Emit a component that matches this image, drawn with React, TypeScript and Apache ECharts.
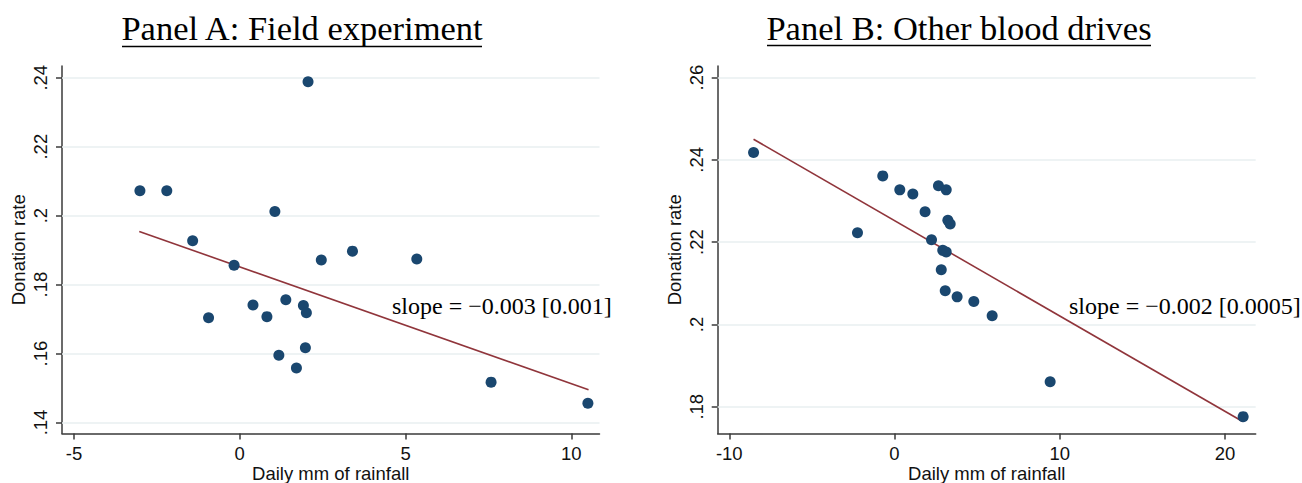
import React, { useEffect, useRef } from "react";
import * as echarts from "echarts";

// ---------- data ----------
const rainA = [-3.01, -2.2, -1.42, -0.17, 1.06, 2.06, -0.94, 0.4, 0.82, 1.39, 1.92, 2.01, 1.18, 1.71, 1.98, 2.46, 3.4, 5.34, 7.58, 10.5];
const rateA = [0.2072, 0.2072, 0.1927, 0.1856, 0.2012, 0.2388, 0.1704, 0.1741, 0.1707, 0.1756, 0.1739, 0.1718, 0.1595, 0.1558, 0.1617, 0.1871, 0.1897, 0.1874, 0.1517, 0.1456];
const fitXA = [-3.03, 10.52];
const fitYA = [0.1954, 0.1495];

const rainB = [-8.53, -2.24, -0.71, 0.32, 1.11, 1.85, 2.24, 2.66, 3.13, 3.23, 3.37, 2.92, 3.13, 2.83, 3.07, 3.79, 4.8, 5.91, 9.42, 21.1];
const rateB = [0.2418, 0.2223, 0.2361, 0.2327, 0.2317, 0.2274, 0.2206, 0.2337, 0.2327, 0.2253, 0.2244, 0.218, 0.2176, 0.2133, 0.2082, 0.2067, 0.2056, 0.2021, 0.1861, 0.1776];
const fitXB = [-8.53, 21.07];
const fitYB = [0.245, 0.1764];

const xTicksA = [-5, 0, 5, 10];
const yTicksA = [0.14, 0.16, 0.18, 0.2, 0.22, 0.24];
const xTicksB = [-10, 0, 10, 20];
const yTicksB = [0.18, 0.2, 0.22, 0.24, 0.26];

const titleA = "Panel A: Field experiment";
const titleB = "Panel B: Other blood drives";
const slopeA = "slope = \u22120.003 [0.001]";
const slopeB = "slope = \u22120.002 [0.0005]";
const xName = "Daily mm of rainfall";
const yName = "Donation rate";

// ---------- styles ----------
const DOT = "#1a476f";
const FIT = "#90353b";
const AXIS = "#3a3a3a";
const GRID = "#e8eff1";
const SANS = "'Liberation Sans', Arial, sans-serif";
const SERIF = "'Liberation Serif', 'Times New Roman', serif";

const fmtY = (v: number) => v.toFixed(2).replace(/^0/, "").replace(/0$/, "");

function xAxisCfg(gridIndex: number, min: number, max: number, ticks: number[]) {
  return {
    type: "value",
    gridIndex,
    min,
    max,
    axisLine: { show: true, onZero: false, lineStyle: { color: AXIS, width: 1.5 } },
    axisTick: { show: true, length: 6, customValues: ticks, lineStyle: { color: AXIS, width: 1.5 } },
    axisLabel: { customValues: ticks, fontSize: 18.5, color: "#111", fontFamily: SANS, margin: 10 },
    splitLine: { show: false },
    name: xName,
    nameLocation: "middle",
    nameGap: 30,
    nameMoveOverlap: false,
    nameTextStyle: { fontSize: 18.5, color: "#111", fontFamily: SANS },
  };
}

function yAxisCfg(gridIndex: number, min: number, max: number, ticks: number[]) {
  return {
    type: "value",
    gridIndex,
    min,
    max,
    axisLine: { show: true, onZero: false, lineStyle: { color: AXIS, width: 1.5 } },
    axisTick: { show: true, length: 6, customValues: ticks, lineStyle: { color: AXIS, width: 1.5 } },
    axisLabel: {
      customValues: ticks,
      rotate: 90,
      fontSize: 18.5,
      color: "#111",
      fontFamily: SANS,
      margin: 12,
      formatter: (v: number) => fmtY(v),
    },
    splitLine: { show: false },
    name: yName,
    nameLocation: "middle",
    nameRotate: 90,
    nameGap: 34,
    nameMoveOverlap: false,
    nameTextStyle: { fontSize: 18.5, color: "#111", fontFamily: SANS },
  };
}

function fitSeries(idx: number, xs: number[], ys: number[], ticks: number[]) {
  return {
    type: "line",
    xAxisIndex: idx,
    yAxisIndex: idx,
    data: xs.map((x, i) => [x, ys[i]]),
    showSymbol: false,
    symbol: "none",
    lineStyle: { color: FIT, width: 1.6 },
    z: 2,
    markLine: {
      silent: true,
      symbol: ["none", "none"],
      label: { show: false },
      lineStyle: { color: GRID, width: 1.5, type: "solid" },
      data: ticks.map((v) => ({ yAxis: v })),
      z: 1,
    },
  };
}

function scatterSeries(idx: number, xs: number[], ys: number[]) {
  return {
    type: "scatter",
    xAxisIndex: idx,
    yAxisIndex: idx,
    data: xs.map((x, i) => [x, ys[i]]),
    symbol: "circle",
    symbolSize: 11,
    itemStyle: { color: DOT, opacity: 1 },
    z: 3,
  };
}

export default function App() {
  const ref = useRef<HTMLDivElement>(null);

  useEffect(() => {
    if (!ref.current) return;
    const chart = echarts.init(ref.current, null, { renderer: "svg" });
    const option = {
      animation: false,
      backgroundColor: "#ffffff",
      grid: [
        { left: 62, top: 66, width: 537.5, height: 367.5, containLabel: false, outerBoundsMode: "none" },
        { left: 717.7, top: 66, width: 538, height: 367.5, containLabel: false, outerBoundsMode: "none" },
      ],
      xAxis: [xAxisCfg(0, -5.36, 10.85, xTicksA), xAxisCfg(1, -10.7, 21.86, xTicksB)],
      yAxis: [yAxisCfg(0, 0.1368, 0.2434, yTicksA), yAxisCfg(1, 0.1735, 0.2628, yTicksB)],
      series: [
        fitSeries(0, fitXA, fitYA, yTicksA),
        scatterSeries(0, rainA, rateA),
        fitSeries(1, fitXB, fitYB, yTicksB),
        scatterSeries(1, rainB, rateB),
      ],
      graphic: [
        {
          type: "text",
          x: 302,
          y: 28,
          style: { text: titleA, fontSize: 34.5, fontFamily: SERIF, fill: "#000", align: "center", verticalAlign: "middle" },
        },
        { type: "line", shape: { x1: 122, y1: 46.5, x2: 482, y2: 46.5 }, style: { stroke: "#000", lineWidth: 1.3 } },
        {
          type: "text",
          x: 959,
          y: 28,
          style: { text: titleB, fontSize: 34.5, fontFamily: SERIF, fill: "#000", align: "center", verticalAlign: "middle" },
        },
        { type: "line", shape: { x1: 767, y1: 45.5, x2: 1151, y2: 45.5 }, style: { stroke: "#000", lineWidth: 1.3 } },
        {
          type: "text",
          x: 392,
          y: 306,
          style: { text: slopeA, fontSize: 24, fontFamily: SERIF, fill: "#000", align: "left", verticalAlign: "middle" },
        },
        {
          type: "text",
          x: 1069,
          y: 306,
          style: { text: slopeB, fontSize: 24, fontFamily: SERIF, fill: "#000", align: "left", verticalAlign: "middle" },
        },
      ],
    };
    chart.setOption(option as any);
    return () => chart.dispose();
  }, []);

  return (
    <div
      ref={ref}
      style={{ position: "fixed", left: 0, top: 0, width: 1302, height: 483, background: "#fff" }}
    />
  );
}
